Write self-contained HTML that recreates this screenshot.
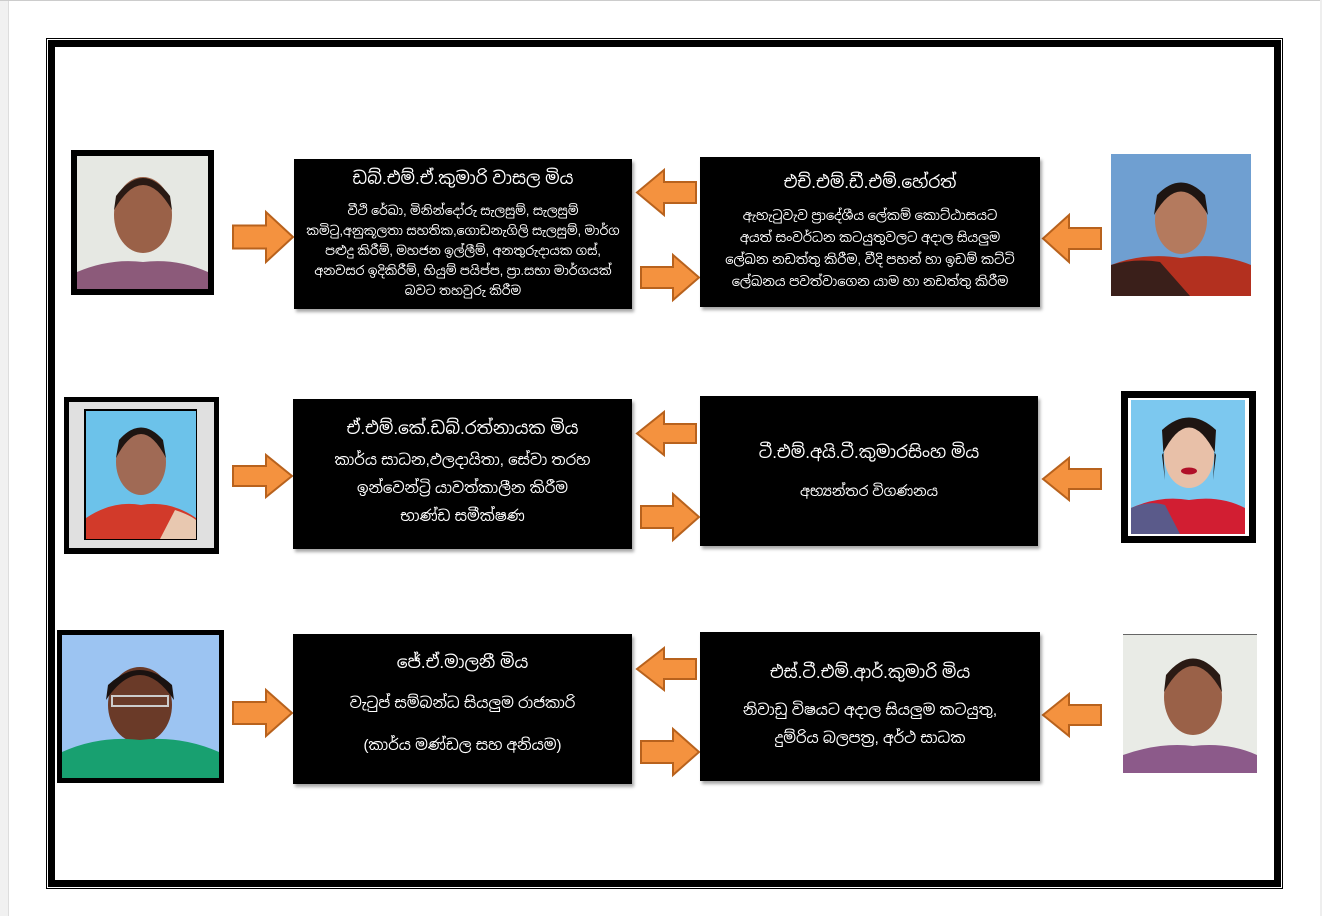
<!DOCTYPE html>
<html><head><meta charset="utf-8">
<style>
html,body{margin:0;padding:0;background:#fff;}
body{width:1322px;height:916px;position:relative;overflow:hidden;font-family:"Liberation Sans","Noto Sans Sinhala","Iskoola Pota",sans-serif;}
.box{position:absolute;background:#000;color:#fff;text-align:center;box-shadow:2px 3px 3px rgba(0,0,0,0.35);display:flex;flex-direction:column;justify-content:center;align-items:center;}
.t{font-size:17px;margin-bottom:12px;}
.s{font-size:12.5px;line-height:20px;}
.m{font-size:15px;line-height:28px;}
</style></head><body>
<div style="position:absolute;left:0;top:0;width:8px;height:916px;background:#f1f1f1;border-right:1px solid #ddd"></div>
<div style="position:absolute;left:0;top:0;width:1322px;height:1px;background:#ccc"></div>
<div style="position:absolute;left:1320px;top:0;width:2px;height:916px;background:#eee"></div>
<!-- frame -->
<div style="position:absolute;left:46px;top:38px;width:1235px;height:849px;border:1px solid #000"></div>
<div style="position:absolute;left:48px;top:40px;width:1219px;height:833px;border:7px solid #000"></div>

<svg width="1322" height="916" style="position:absolute;left:0;top:0">
<!-- photos -->
<!-- r1 left -->
<rect x="71" y="150" width="143" height="145" fill="#000"/>
<rect x="77" y="156" width="131" height="133" fill="#e6e8e3"/>
<ellipse cx="143" cy="215" rx="29" ry="38" fill="#9a6148"/>
<path d="M114 210 Q143 160 172 210 L170 196 Q143 160 116 196Z" fill="#2a1a14"/>
<path d="M77 289 L77 272 Q110 258 143 262 Q176 258 208 272 L208 289Z" fill="#8c5a7a"/>
<!-- r1 right -->
<rect x="1111" y="154" width="140" height="142" fill="#6f9fd1"/>
<ellipse cx="1181" cy="220" rx="26" ry="34" fill="#b47a5e"/>
<path d="M1154 215 Q1181 168 1208 215 L1205 195 Q1181 170 1157 195Z" fill="#1e1512"/>
<path d="M1111 296 L1111 265 Q1145 252 1181 258 Q1220 252 1251 265 L1251 296Z" fill="#b3301f"/>
<path d="M1111 296 L1111 265 Q1135 258 1160 262 L1190 296Z" fill="#3a1f1a"/>
<!-- r2 left -->
<rect x="64" y="397" width="155" height="157" fill="#000"/>
<rect x="69" y="402" width="145" height="146" fill="#e0e0e0"/>
<rect x="84" y="409" width="113" height="131" fill="#000"/>
<rect x="86" y="411" width="110" height="128" fill="#6cc2ea"/>
<ellipse cx="141" cy="462" rx="25" ry="33" fill="#a06a55"/>
<path d="M116 458 Q141 410 166 458 L163 440 Q141 415 119 440Z" fill="#1e1512"/>
<path d="M86 539 L86 518 Q113 500 141 505 Q170 500 196 518 L196 539Z" fill="#d23a2a"/>
<path d="M160 539 L175 510 Q190 515 196 520 L196 539Z" fill="#e8c8b0"/>
<!-- r2 right -->
<rect x="1121" y="391" width="135" height="152" fill="#000"/>
<rect x="1128" y="398" width="121" height="138" fill="#fff"/>
<rect x="1131" y="400" width="114" height="134" fill="#7cc8ef"/>
<ellipse cx="1189" cy="455" rx="25" ry="33" fill="#e8c0a8"/>
<path d="M1162 455 Q1189 400 1216 455 L1213 480 L1216 430 Q1189 405 1162 430 L1165 480Z" fill="#1e1512"/>
<ellipse cx="1189" cy="471" rx="8" ry="3.5" fill="#b01028"/>
<path d="M1131 534 L1131 508 Q1160 495 1189 500 Q1220 495 1245 508 L1245 534Z" fill="#d21e32"/>
<path d="M1131 534 L1131 508 Q1150 500 1165 505 L1180 534Z" fill="#5a5a8a"/>
<!-- r3 left -->
<rect x="57" y="630" width="167" height="153" fill="#000"/>
<rect x="62" y="635" width="157" height="143" fill="#9cc4f2"/>
<ellipse cx="140" cy="705" rx="32" ry="38" fill="#6a3a28"/>
<path d="M106 700 Q140 650 174 700 L172 685 Q140 655 108 685Z" fill="#1a1210"/>
<rect x="112" y="696" width="56" height="10" fill="none" stroke="#ccc" stroke-width="2"/>
<path d="M62 778 L62 752 Q100 735 140 740 Q180 735 219 752 L219 778Z" fill="#18a070"/>
<!-- r3 right -->
<rect x="1123" y="634" width="134" height="139" fill="#e9ebe6"/>
<rect x="1123" y="634" width="134" height="1" fill="#666"/>
<ellipse cx="1193" cy="697" rx="29" ry="38" fill="#9a6148"/>
<path d="M1164 692 Q1193 640 1222 692 L1220 675 Q1193 642 1166 675Z" fill="#2a1a14"/>
<path d="M1123 773 L1123 755 Q1160 742 1193 746 Q1228 742 1257 755 L1257 773Z" fill="#8c5a8a"/>

<!-- arrows -->
<g fill="#f4923f" stroke="#b8621d" stroke-width="2" stroke-linejoin="miter">
<polygon points="233,225.5 266,225.5 266,212 293,237 266,262 266,248.5 233,248.5"/>
<polygon points="696,182 664,182 664,170 637,192.5 664,215 664,203 696,203"/>
<polygon points="641,267 673,267 673,255 699,277.5 673,300 673,288 641,288"/>
<polygon points="1101,228 1069,228 1069,215 1043,238.5 1069,262 1069,249 1101,249"/>
<polygon points="233,466 266,466 266,455 292,476 266,497 266,486 233,486"/>
<polygon points="696,424 664,424 664,412 637,433.5 664,455 664,443 696,443"/>
<polygon points="641,506 673,506 673,494 699,517 673,540 673,528 641,528"/>
<polygon points="1101,469 1069,469 1069,458 1043,479 1069,500 1069,489 1101,489"/>
<polygon points="233,702 266,702 266,690 292,713 266,736 266,724 233,724"/>
<polygon points="696,659 664,659 664,648 637,669 664,690 664,679 696,679"/>
<polygon points="641,741 673,741 673,729 699,752 673,775 673,763 641,763"/>
<polygon points="1101,705 1069,705 1069,694 1043,715 1069,736 1069,725 1101,725"/>
</g>
</svg>

<div class="box" style="left:294px;top:159px;width:338px;height:150px">
<div class="t">ඩබ්.එම්.ඒ.කුමාරි වාසල මිය</div>
<div class="s">වීථි රේඛා, මිනින්දෝරු සැලසුම්, සැලසුම්<br>කමිටු,අනුකූලතා සහතික,ගොඩනැගිලි සැලසුම්, මාර්ග<br>පළුදු කිරීම්, මහජන ඉල්ලීම්, අනතුරුදායක ගස්,<br>අනවසර ඉදිකිරීම්, භියුම් පයිප්ප, ප්‍රා.සභා මාර්ගයක්<br>බවට තහවුරු කිරීම</div>
</div>
<div class="box" style="left:700px;top:157px;width:340px;height:150px">
<div class="t">එච්.එම්.ඩී.එම්.හේරත්</div>
<div class="s" style="font-size:13px;line-height:22px">ඇහැටුවැව ප්‍රාදේශීය ලේකම් කොට්ඨාසයට<br>අයත් සංවර්ධන කටයුතුවලට අදාල සියලුම<br>ලේඛන නඩත්තු කිරීම, වීදි පහන් හා ඉඩම් කට්ටි<br>ලේඛනය පවත්වාගෙන යාම හා නඩත්තු කිරීම</div>
</div>
<div class="box" style="left:293px;top:399px;width:339px;height:150px">
<div class="t" style="margin-bottom:8px">ඒ.එම්.කේ.ඩබ්.රත්නායක මිය</div>
<div class="m">කාර්ය සාධන,ඵලදායිතා, සේවා තරහ<br>ඉන්වෙන්ට්‍රි යාවත්කාලීන කිරීම<br>භාණ්ඩ සමීක්ෂණ</div>
</div>
<div class="box" style="left:700px;top:396px;width:338px;height:150px">
<div class="t" style="margin-bottom:18px">ටී.එම්.අයි.ටී.කුමාරසිංහ මිය</div>
<div class="s" style="font-size:14px">අභ්‍යන්තර විගණනය</div>
</div>
<div class="box" style="left:293px;top:634px;width:339px;height:150px">
<div class="t" style="margin-bottom:10px">ජේ.ඒ.මාලනී මිය</div>
<div class="m" style="line-height:42px">වැටුප් සම්බන්ධ සියලුම රාජකාරි<br>(කාර්ය මණ්ඩල සහ අනියම)</div>
</div>
<div class="box" style="left:700px;top:632px;width:340px;height:149px">
<div class="t" style="margin-bottom:14px">එස්.ටී.එම්.ආර්.කුමාරි මිය</div>
<div class="m">නිවාඩු විෂයට අදාල සියලුම කටයුතු,<br>දුම්රිය බලපත්‍ර, අර්ථ සාධක</div>
</div>
</body></html>
